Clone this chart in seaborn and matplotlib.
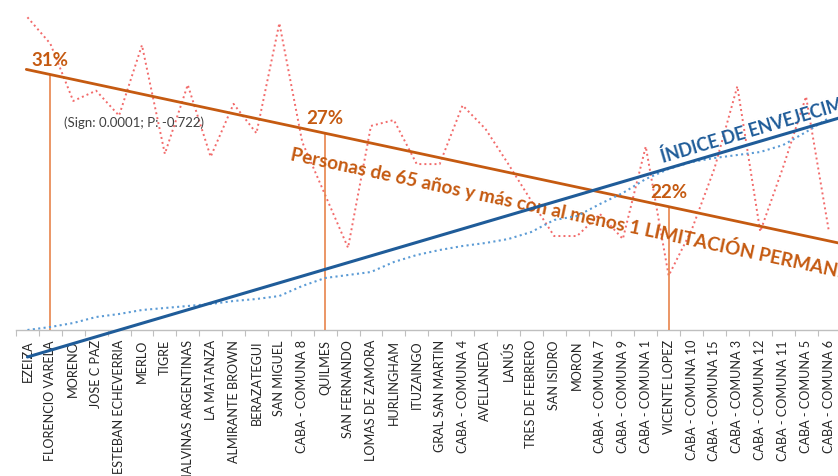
import numpy as np
import pandas as pd
import matplotlib
matplotlib.use("Agg")
import matplotlib.pyplot as plt
import seaborn as sns

# Municipalities / comunas ordered by ageing index
municipios = [
    "EZEIZA", "FLORENCIO VARELA", "MORENO", "JOSE C PAZ", "ESTEBAN ECHEVERRIA",
    "MERLO", "TIGRE", "MALVINAS ARGENTINAS", "LA MATANZA", "ALMIRANTE BROWN",
    "BERAZATEGUI", "SAN MIGUEL", "CABA - COMUNA 8", "QUILMES", "SAN FERNANDO",
    "LOMAS DE ZAMORA", "HURLINGHAM", "ITUZAINGO", "GRAL SAN MARTIN",
    "CABA - COMUNA 4", "AVELLANEDA", "LANÚS", "TRES DE FEBRERO", "SAN ISIDRO",
    "MORON", "CABA - COMUNA 7", "CABA - COMUNA 9", "CABA - COMUNA 1",
    "VICENTE LOPEZ", "CABA - COMUNA 10", "CABA - COMUNA 15", "CABA - COMUNA 3",
    "CABA - COMUNA 12", "CABA - COMUNA 11", "CABA - COMUNA 5", "CABA - COMUNA 6",
]

# % of people aged 65+ with at least one permanent limitation
limitacion_pct = [
    34.9, 33.1, 29.2, 29.9, 28.2, 33.0, 25.6, 30.3, 25.4, 29.0,
    27.0, 34.5, 26.4, 22.8, 19.2, 27.5, 27.9, 24.9, 24.9, 28.9,
    27.3, 24.9, 22.4, 20.0, 20.0, 21.5, 19.8, 26.1, 17.3, 20.4,
    24.6, 30.2, 20.3, 24.7, 29.5, 20.3,
]

# Ageing index
indice_env = [
    25.0, 26.5, 28.5, 31.5, 33.0, 35.0, 36.0, 37.0, 38.0, 39.5,
    40.5, 42.0, 47.0, 51.0, 52.5, 54.0, 59.0, 62.5, 65.0, 67.0,
    68.5, 70.5, 74.0, 80.0, 82.0, 88.0, 93.5, 100.5, 105.5, 109.0,
    111.0, 112.5, 114.0, 117.5, 124.0, 131.0,
]

# Limitation trend line, given by its labelled values
trend_pos = [1, 13, 28]
trend_pct = [31, 27, 22]
estadistico = "(Sign: 0.0001; P: -0.722)"

# Ageing index trend: values at first and last municipality
indice_trend_ends = [11.5, 129.5]

C_TREND = "#C55A11"
C_VLINE = "#E8844C"
C_RED = "#F26B6B"
C_BLUE_TREND = "#1F5C99"
C_BLUE = "#5B9BD5"

sns.set_theme(style="white")
plt.rcParams["font.family"] = ["Lato", "DejaVu Sans"]

W, H = 838, 477
fig = plt.figure(figsize=(W / 100, H / 100), dpi=100)
left, right, top, bottom = 16, 840.4, 8, 331
ax = fig.add_axes([left / W, (H - bottom) / H, (right - left) / W, (bottom - top) / H])
ax2 = ax.twinx()

n = len(municipios)
df = pd.DataFrame({
    "pos": np.arange(n),
    "municipio": municipios,
    "limitacion": limitacion_pct,
    "indice": indice_env,
})

ax.set_xlim(-0.5, n - 0.5)
ax.set_ylim(13.6, 35.6)
ax2.set_ylim(25, 186.5)

# dotted series
sns.lineplot(data=df, x="pos", y="limitacion", ax=ax, color=C_RED,
             linewidth=1.4, linestyle=(0, (1, 1.6)), zorder=2)
sns.lineplot(data=df, x="pos", y="indice", ax=ax2, color=C_BLUE,
             linewidth=1.5, linestyle=(0, (1, 1.6)), zorder=2)

# limitation trend (from labelled values)
slope = (trend_pct[-1] - trend_pct[0]) / (trend_pos[-1] - trend_pos[0])
icpt = trend_pct[0] - slope * trend_pos[0]
xr = np.array([-0.05, n + 0.5])
ax.plot(xr, icpt + slope * xr, color=C_TREND, linewidth=2.0, zorder=4)

# ageing index trend
b0 = indice_trend_ends[0]
b1 = (indice_trend_ends[1] - indice_trend_ends[0]) / (n - 1)
xb = np.array([0, n + 0.5])
ax2.plot(xb, b0 + b1 * xb, color=C_BLUE_TREND, linewidth=2.2, zorder=4,
         clip_on=False)

# vertical markers and % labels
ylo = ax.get_ylim()[0]
for p, v in zip(trend_pos, trend_pct):
    ax.vlines(p, ylo, v, color=C_VLINE, linewidth=1.2, zorder=3)
    ax.annotate(f"{v}%", (p, v), xytext=(0, 5), textcoords="offset points",
                ha="center", va="bottom", fontsize=13.5, fontweight="bold",
                color=C_TREND, zorder=6)

ax.text(1.6, 27.8, estadistico, fontsize=9.5, color="#404040",
        ha="left", va="center", zorder=6)

# axis styling
for a in (ax, ax2):
    for s in a.spines.values():
        s.set_visible(False)
ax.spines["bottom"].set_visible(True)
ax.spines["bottom"].set_color("#BFBFBF")
ax.spines["bottom"].set_linewidth(1.0)
ax2.set_yticks([])
ax.set_yticks([])
ax.set_ylabel("")
ax2.set_ylabel("")
ax.set_xlabel("")
ax.set_xticks(np.arange(n))
ax.set_xticklabels(municipios, rotation=90, fontsize=9.1, color="#262626")
ax.set_xticks(np.arange(-0.5, n, 1), minor=True)
ax.tick_params(axis="x", which="major", length=0, pad=6.5)
ax.tick_params(axis="x", which="minor", length=4, width=0.8,
               color="#BFBFBF", bottom=True, direction="out")

# rotated series titles along their trend lines
fig.canvas.draw()
def angle(axis, f, x0, x1):
    p0 = axis.transData.transform((x0, f(x0)))
    p1 = axis.transData.transform((x1, f(x1)))
    return np.degrees(np.arctan2(p1[1] - p0[1], p1[0] - p0[0]))

f_red = lambda x: icpt + slope * x
f_blue = lambda x: b0 + b1 * x
a_red = angle(ax, f_red, 0, 35)
a_blue = angle(ax2, f_blue, 0, 35)

x_t = 11.6
ax.annotate("Personas de 65 años y más con al menos 1 LIMITACIÓN PERMANENTE",
            (x_t, f_red(x_t)), xytext=(0, -11), textcoords="offset points",
            ha="left", va="top", rotation=a_red, rotation_mode="anchor",
            fontsize=13.7, fontweight="bold", color=C_TREND,
            annotation_clip=False, zorder=6)
x_b = 27.75
ax2.annotate("ÍNDICE DE ENVEJECIMIENTO", (x_b, f_blue(x_b)),
             xytext=(0, 6), textcoords="offset points",
             ha="left", va="baseline", rotation=a_blue, rotation_mode="anchor",
             fontsize=12.8, fontweight="bold", color=C_BLUE_TREND,
             annotation_clip=False, zorder=6)

fig.savefig("out.png", dpi=100, facecolor="white")
